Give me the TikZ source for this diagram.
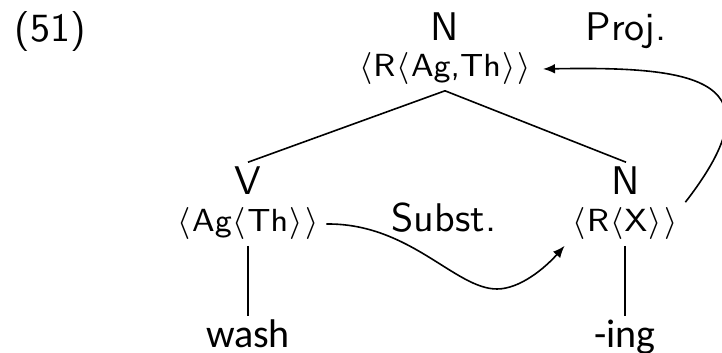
\documentclass[tikz,border=0pt]{standalone}
\usepackage{fontspec}
\newfontfamily\leaffont{Carlito}
\usetikzlibrary{arrows.meta}
\newcommand\lbr{\kern0.3pt$\langle$\kern0.3pt}
\newcommand\rbr{\kern0.3pt$\rangle$\kern0.3pt}
\begin{document}
\begin{tikzpicture}[x=0.25pt,y=-0.25pt,
  cat/.style={font=\fontsize{10}{12}\selectfont\sffamily, anchor=base, inner sep=0pt, text height=8pt},
  feat/.style={font=\fontsize{8}{10}\selectfont\sffamily, anchor=base, inner ysep=0pt, inner xsep=1.5pt, text height=7.25pt, text depth=3.25pt},
  leaf/.style={font=\fontsize{10}{12}\selectfont\leaffont, anchor=base, inner sep=0pt, text height=7.75pt},
  lbl/.style={font=\fontsize{10}{12}\selectfont\sffamily, anchor=base, inner sep=0pt},
  arr/.style={-{Latex[length=3pt,width=2.4pt]}, line width=0.4pt},
  branch/.style={line width=0.4pt}]
\useasboundingbox (0,0) rectangle (722,353);
\node[lbl] (ex) at (50,41) {(51)};
\node[cat] (nt) at (445,40) {N};
\node[lbl] (proj) at (626,40) {Proj.};
\node[feat, inner xsep=2.5pt] (ft) at (445,77) {\lbr R\lbr Ag,Th\rbr\rbr};
\node[cat] (v) at (248,195) {V};
\node[feat] (fv) at (248,232) {\lbr Ag\lbr Th\rbr\rbr};
\node[cat] (nr) at (626,195) {N};
\node[feat] (fn) at (625,232) {\lbr R\lbr X\rbr\rbr};
\node[lbl] (subst) at (444,232) {Subst.};
\node[leaf] (wash) at (248,348) {wash};
\node[leaf] (ing) at (625,348) {-ing};
\draw[branch] (ft.south) -- (v.north);
\draw[branch] (ft.south) -- (nr.north);
\draw[branch] (fv.south) -- (wash.north);
\draw[branch] (fn.south) -- (ing.north);
\coordinate (low) at (497,289);
\draw[arr] (fv.east) .. controls (410,223) and (455,289) .. (low) .. controls (520,289) and (545,268) .. (fn.south west);
\draw[arr] (fn.north east) .. controls (780,80) and (700,66) .. (ft.east);
\end{tikzpicture}
\end{document}
